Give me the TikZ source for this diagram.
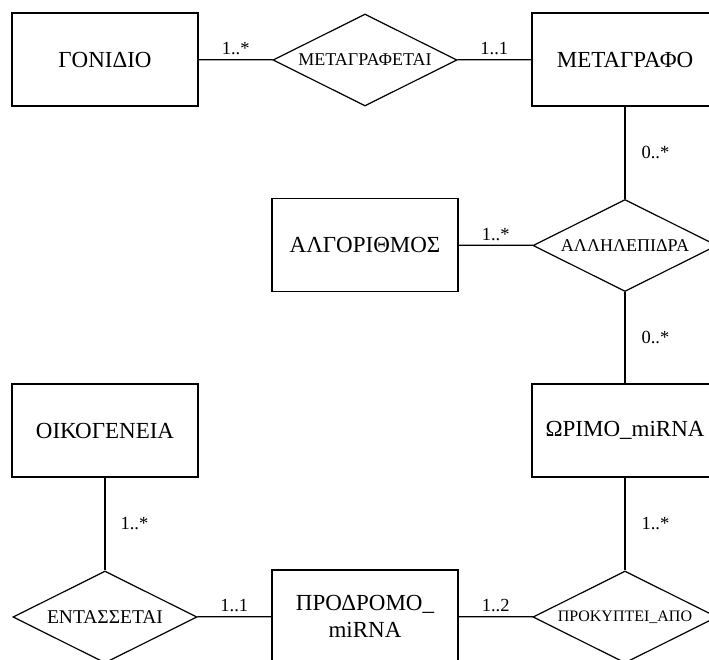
\documentclass[tikz,border=0pt]{standalone}
\usepackage{fontspec}
\setmainfont{Liberation Serif}
\usetikzlibrary{shapes.geometric}
\tikzset{
  entity/.style={draw, line width=1.2pt, rectangle, minimum width=186pt, minimum height=93pt, inner sep=0pt, font=\fontsize{23}{27.5}\selectfont, align=center},
  rel/.style={draw, line width=1.2pt, diamond, aspect=2, minimum width=184pt, minimum height=92pt, inner sep=0pt, font=\fontsize{18}{20}\selectfont},
  conn/.style={line width=1.2pt},
  mult/.style={font=\fontsize{18.5}{20}\selectfont, inner sep=0pt}
}
\begin{document}
\begin{tikzpicture}[x=1pt,y=-1pt]
\useasboundingbox (0,0) rectangle (709,659);
\clip (0,0) rectangle (709,659);
\node[entity] (gon) at (105,59.5) {ΓΟΝΙΔΙΟ};
\node[rel] (metr) at (365,60) {ΜΕΤΑΓΡΑΦΕΤΑΙ};
\node[entity] (metg) at (625,59.5) {ΜΕΤΑΓΡΑΦΟ};
\node[entity] (alg) at (365,245) {ΑΛΓΟΡΙΘΜΟΣ};
\node[rel] (allh) at (625,245.5) {ΑΛΛΗΛΕΠΙΔΡΑ};
\node[entity] (wrim) at (625,430.5) {ΩΡΙΜΟ\_miRNA};
\node[entity] (oik) at (105,430.5) {ΟΙΚΟΓΕΝΕΙΑ};
\node[rel, font=\fontsize{19.5}{22}\selectfont] (ent) at (105,617) {ΕΝΤΑΣΣΕΤΑΙ};
\node[entity] (prod) at (365,616.5) {ΠΡΟΔΡΟΜΟ\_\\miRNA};
\node[rel, font=\fontsize{16}{19}\selectfont] (prok) at (625,617) {ΠΡΟΚΥΠΤΕΙ\_ΑΠΟ};
\draw[conn] (gon) -- node[mult, above=4pt] {1..*} (metr);
\draw[conn] (metr) -- node[mult, above=4pt] {1..1} (metg);
\draw[conn] (metg) -- node[mult, right=16pt] {0..*} (allh);
\draw[conn] (alg) -- node[mult, above=4pt] {1..*} (allh);
\draw[conn] (allh) -- node[mult, right=16pt] {0..*} (wrim);
\draw[conn] (oik) -- node[mult, right=15pt] {1..*} (ent);
\draw[conn] (wrim) -- node[mult, right=16pt] {1..*} (prok);
\draw[conn] (ent) -- node[mult, above=4pt] {1..1} (prod);
\draw[conn] (prod) -- node[mult, above=4pt] {1..2} (prok);
\end{tikzpicture}
\end{document}
